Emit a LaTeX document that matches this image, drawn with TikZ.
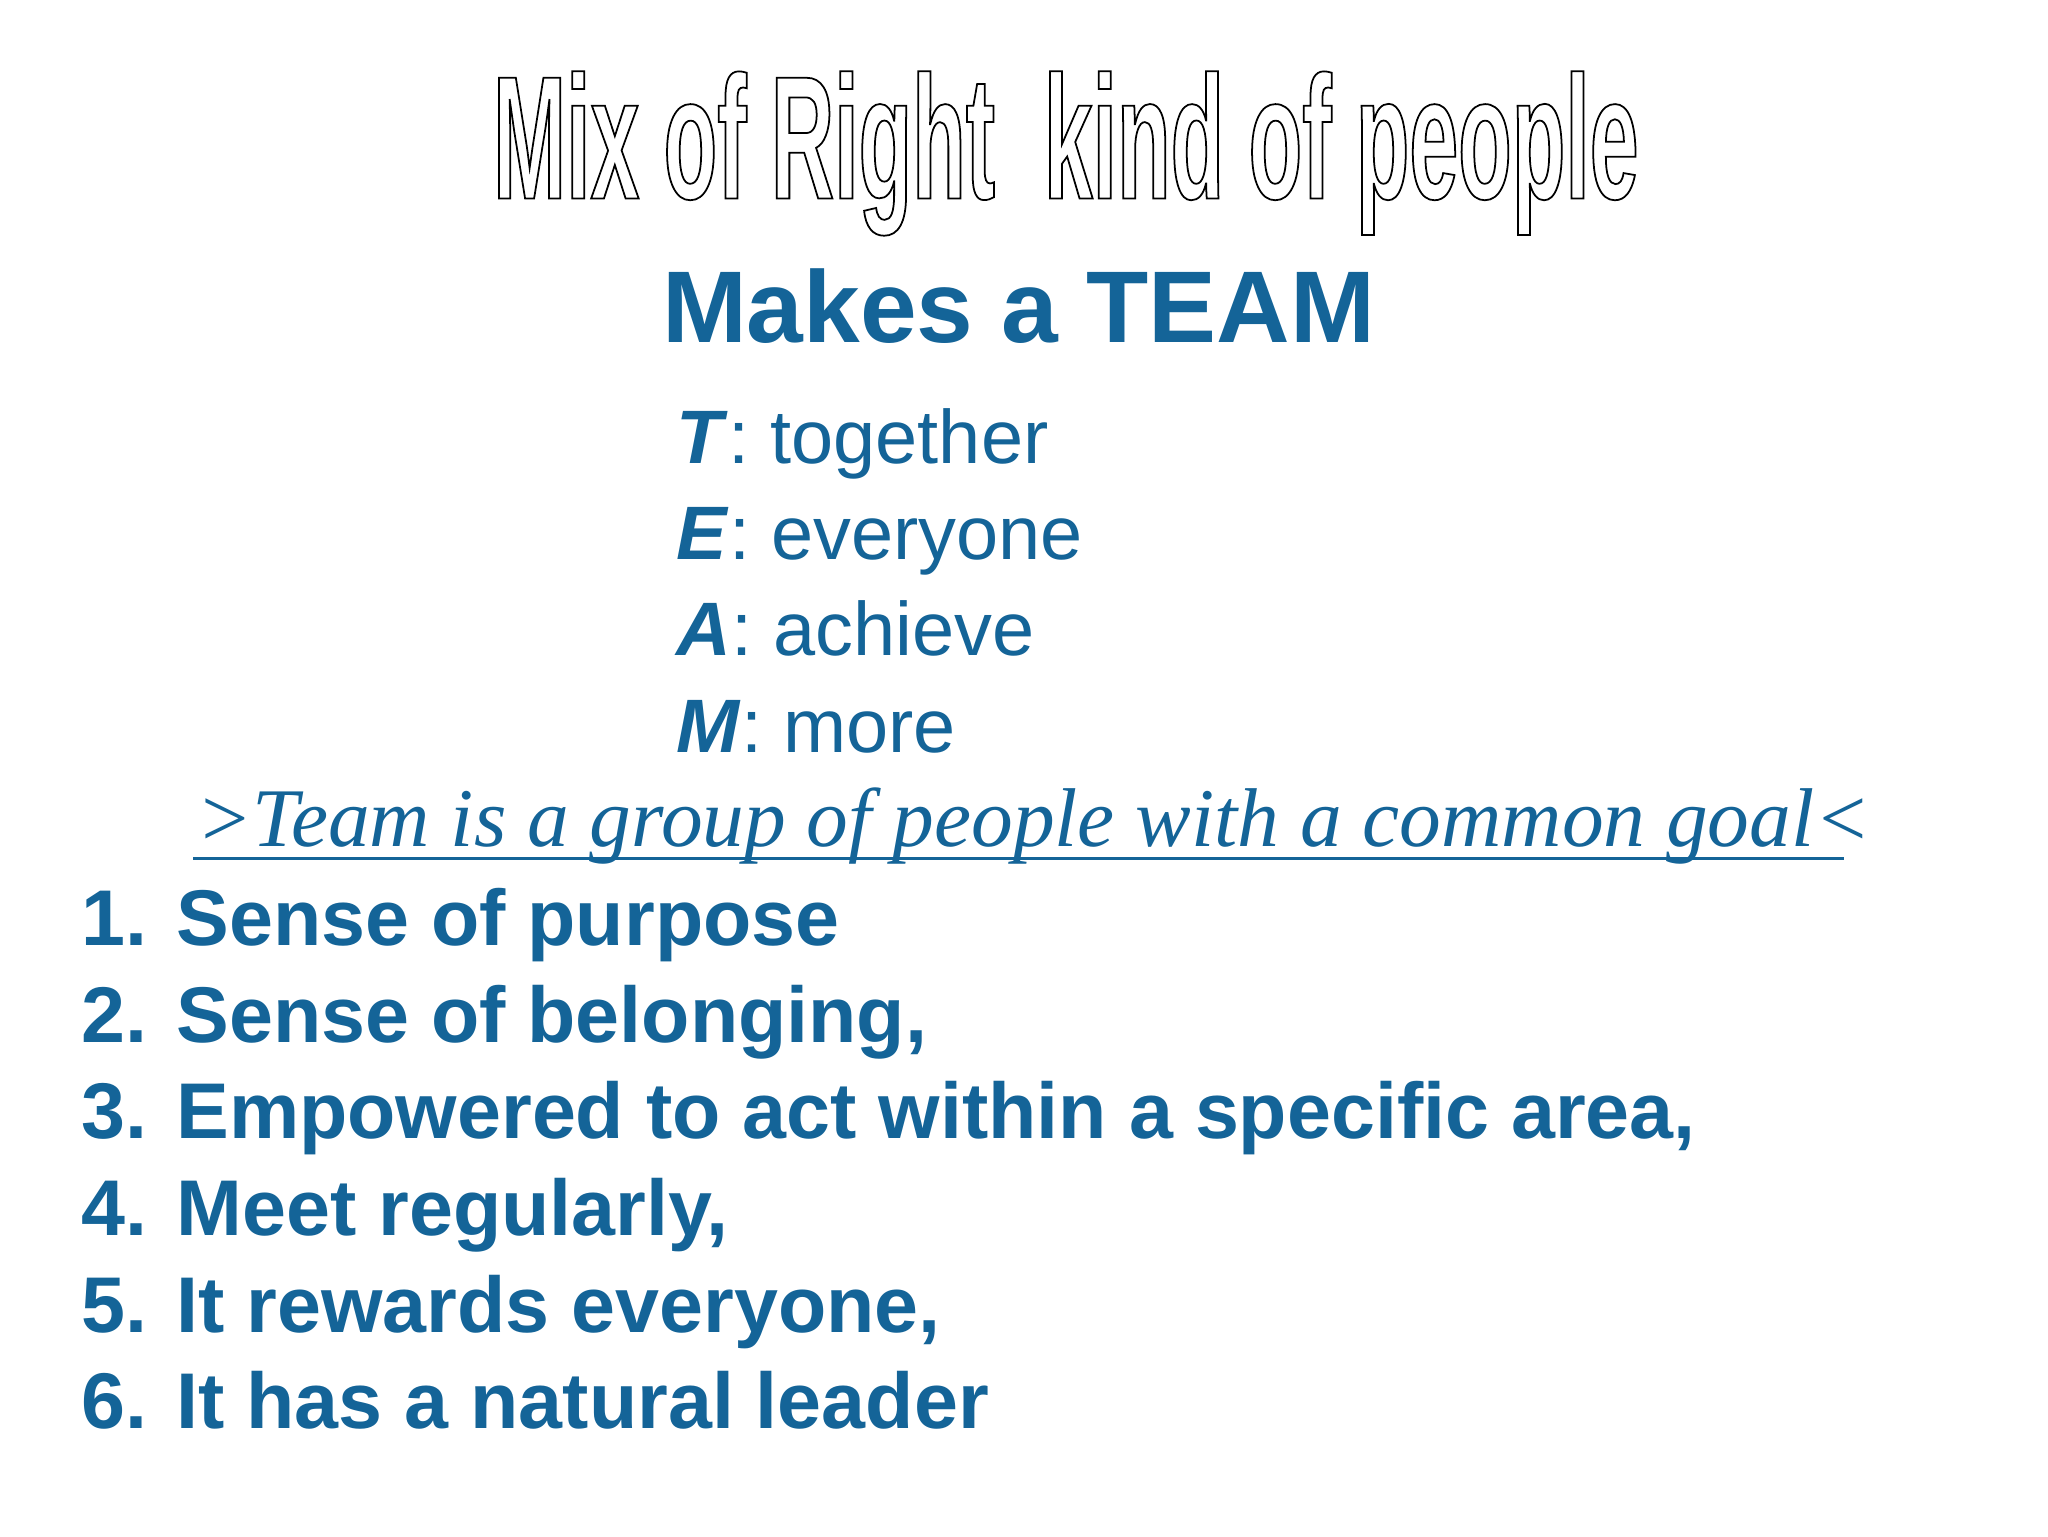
\documentclass[tikz,border=0pt]{standalone}
\usepackage{fontspec}
\setmainfont{Liberation Sans}
\newfontfamily\narrowf[FakeStretch=0.5]{Liberation Sans}
\newfontfamily\scriptf{Liberation Serif}
\usepackage{graphicx}
\definecolor{tblue}{RGB}{20,100,152}
\begin{document}
\begin{tikzpicture}[x=1pt,y=-1pt,
  lst/.style={anchor=base west,inner sep=0,text=tblue,font=\fontsize{60.5}{64}\selectfont\bfseries},
  tm/.style={anchor=base west,inner sep=0,text=tblue,font=\fontsize{58}{60}\selectfont}]
\useasboundingbox[fill=white] (0,0) rectangle (1568,1176);
\node[inner sep=0,anchor=base] (title) at (816,152) {\resizebox{877pt}{!}{\narrowf\bfseries\fontsize{120}{120}\selectfont\special{pdf:literal direct 1 Tr 1.2 w}Mix of Right\ \ kind of people\special{pdf:literal direct 0 Tr}}};
\node[inner sep=0,anchor=base,text=tblue] (makes) at (780,262) {\fontsize{78}{84}\selectfont\bfseries Makes a TEAM};
\node[tm] (t) at (518,355) {\textbf{\textit{T}}: together};
\node[tm] (e) at (518,428) {\textbf{\textit{E}}: everyone};
\node[tm] (a) at (518,502) {\textbf{\textit{A}}: achieve};
\node[tm] (m) at (518,576) {\textbf{\textit{M}}: more};
\node[inner sep=0,anchor=base west,text=tblue] (goal) at (150,648) {\resizebox{1282pt}{!}{\scriptf\itshape\fontsize{50}{50}\selectfont >Team is a group of people with a common goal<}};
\draw[tblue,line width=2.5pt] (148,657) -- (1412,657);
\node[lst] (l1) at (62,724) {1. Sense of purpose};
\node[lst] (l2) at (62,798) {2. Sense of belonging,};
\node[lst] (l3) at (62,872) {3. Empowered to act within a specific area,};
\node[lst] (l4) at (62,946) {4. Meet regularly,};
\node[lst] (l5) at (62,1020) {5. It rewards everyone,};
\node[lst] (l6) at (62,1094) {6. It has a natural leader};
\end{tikzpicture}
\end{document}
